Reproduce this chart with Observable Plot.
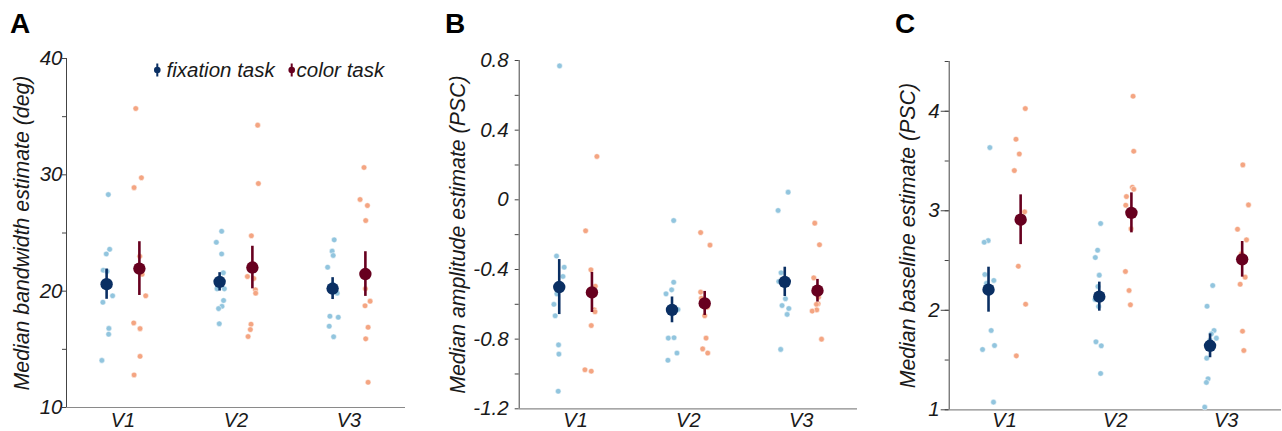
<!DOCTYPE html>
<html>
<head>
<meta charset="utf-8">
<script src="https://cdn.jsdelivr.net/npm/d3@7"></script>
<script src="https://cdn.jsdelivr.net/npm/@observablehq/plot@0.6"></script>
<style>
  body { margin: 0; background: white; }
  #wrap { position: relative; width: 1282px; height: 431px; overflow: hidden; font-family: "Liberation Sans", Arial, sans-serif; }
  .panel { position: absolute; top: 0; }
  #overlay { position: absolute; left: 0; top: 0; }
</style>
</head>
<body>
<div id="wrap">
  <div class="panel" id="pA" style="left:0px"></div>
  <div class="panel" id="pB" style="left:430px"></div>
  <div class="panel" id="pC" style="left:860px"></div>
  <svg id="overlay" width="1282" height="431"></svg>
</div>
<script>
// ---------- data ----------
const categories = ["V1", "V2", "V3"];
const tasks = ["fixation task", "color task"];
const panelLetters = ["A", "B", "C"];
const titles = ["Median bandwidth estimate (deg)", "Median amplitude estimate (PSC)", "Median baseline estimate (PSC)"];

// Panel A: bandwidth (deg)
const bwFix = [
  [28.3, 23.6, 23.2, 21.8, 21.7, 19.6, 19.05, 16.8, 16.3, 14.05],
  [25.15, 24.2, 23.2, 21.58, 20.2, 20.2, 19.2, 18.7, 18.5, 17.2],
  [24.41, 23.44, 23.07, 22.06, 20.6, 19.83, 17.85, 17.76, 16.99, 16.08]
];
const bwFixJit = [
  [0.015, 0.027, -0.003, -0.03, 0.004, 0.053, -0.033, 0.02, 0.018, -0.042],
  [0.018, -0.029, 0.018, 0.033, -0.023, 0.042, 0.035, 0.021, -0.009, -0.003],
  [0.014, -0.004, 0.005, -0.044, 0, 0.041, -0.024, 0.05, -0.03, 0.009]
];
const bwCol = [
  [35.7, 29.75, 28.9, 23.0, 21.45, 19.6, 17.27, 16.78, 14.4, 12.8],
  [34.27, 29.25, 24.76, 21.26, 21.09, 20.12, 19.83, 17.16, 16.7, 16.1],
  [30.63, 27.88, 27.36, 26.07, 20.2, 19.14, 18.74, 16.9, 15.9, 12.17]
];
const bwColJit = [
  [-0.032, 0.018, -0.047, 0.003, 0.024, 0.056, -0.05, 0.006, 0.006, -0.047],
  [0.047, 0.053, -0.009, -0.044, 0.012, 0.027, 0.029, -0.012, -0.018, -0.038],
  [-0.012, -0.047, 0.018, 0.003, 0, 0.042, -0.003, 0.024, 0.003, 0.024]
];
const bwFixMean = [20.6, 20.8, 20.22];
const bwFixSem = [1.3, 0.79, 0.94];
const bwColMean = [21.94, 22.03, 21.47];
const bwColSem = [2.31, 1.83, 1.92];

// Panel B: amplitude (PSC)
const ampFix = [
  [0.769, -0.323, -0.387, -0.44, -0.54, -0.60, -0.666, -0.833, -0.886, -1.099],
  [-0.119, -0.473, -0.517, -0.54, -0.63, -0.654, -0.794, -0.792, -0.88, -0.921],
  [0.044, -0.061, -0.419, -0.469, -0.489, -0.568, -0.607, -0.624, -0.658, -0.859]
];
const ampFixJit = [
  [0.003, -0.024, 0.044, 0.033, -0.021, -0.047, -0.036, -0.006, -0.003, -0.009],
  [0.015, 0.015, -0.003, -0.053, 0.053, 0, -0.033, 0.018, 0.044, -0.036],
  [0.03, -0.059, -0.033, -0.053, 0, 0.006, -0.024, 0.036, 0.021, -0.036]
];
const ampCol = [
  [0.249, -0.178, -0.402, -0.496, -0.55, -0.632, -0.643, -0.722, -0.976, -0.984],
  [-0.188, -0.26, -0.53, -0.565, -0.595, -0.616, -0.666, -0.794, -0.856, -0.88],
  [-0.134, -0.258, -0.448, -0.52, -0.56, -0.597, -0.6, -0.632, -0.639, -0.8]
];
const ampColJit = [
  [0.044, -0.056, -0.009, 0.03, 0, 0.021, 0.027, -0.006, -0.062, -0.006],
  [-0.036, 0.047, -0.036, -0.03, 0, 0.024, 0, 0.012, -0.018, 0.027],
  [-0.024, 0.018, -0.033, 0, 0.009, 0.006, -0.009, -0.006, -0.047, 0.036]
];
const ampFixMean = [-0.501, -0.632, -0.471];
const ampFixSem = [0.158, 0.074, 0.084];
const ampColMean = [-0.532, -0.595, -0.522];
const ampColSem = [0.115, 0.069, 0.065];

// Panel C: baseline (PSC)
const baseFix = [
  [3.635, 2.70, 2.684, 2.36, 2.30, 2.27, 1.797, 1.646, 1.606, 1.077],
  [2.872, 2.604, 2.53, 2.353, 2.239, 2.108, 2.038, 1.683, 1.643, 1.365],
  [2.249, 2.041, 1.797, 1.763, 1.72, 1.698, 1.519, 1.311, 1.275, 1.027]
];
const baseFixJit = [
  [0.012, -0.003, -0.039, -0.033, 0.048, -0.018, 0.024, 0.054, -0.054, 0.045],
  [0.012, -0.015, -0.036, 0, -0.012, -0.039, -0.006, -0.03, 0.018, 0.012],
  [0.024, -0.027, 0.036, 0.012, 0.057, 0, -0.03, -0.018, -0.033, -0.048]
];
const baseCol = [
  [4.027, 3.719, 3.571, 3.404, 2.989, 2.93, 2.88, 2.443, 2.061, 1.542],
  [4.151, 3.598, 3.237, 3.217, 3.143, 3.056, 2.818, 2.39, 2.199, 2.055],
  [3.461, 3.059, 2.815, 2.708, 2.567, 2.539, 2.333, 2.262, 1.79, 1.596]
];
const baseColJit = [
  [0.042, -0.042, -0.012, -0.057, 0.036, 0, 0.006, -0.021, 0.045, -0.039],
  [0.015, 0.021, 0.009, 0.021, -0.045, -0.051, -0.003, -0.054, -0.021, -0.009],
  [0.006, 0.057, -0.042, 0.039, -0.006, 0, 0.027, -0.018, 0.003, 0.015]
];
const baseFixMean = [2.207, 2.137, 1.643];
const baseFixSem = [0.226, 0.146, 0.12];
const baseColMean = [2.91, 2.979, 2.512];
const baseColSem = [0.25, 0.201, 0.179];

// axis ticks
const bwTicksMinor = [10, 15, 20, 25, 30, 35, 40];
const bwTicksMajor = [10, 20, 30, 40];
const ampTicksMinor = [-1.2, -1.0, -0.8, -0.6, -0.4, -0.2, 0, 0.2, 0.4, 0.6, 0.8];
const ampTicksMajor = [-1.2, -0.8, -0.4, 0, 0.4, 0.8];
const baseTicksMinor = [1, 1.5, 2, 2.5, 3, 3.5, 4, 4.5];
const baseTicksMajor = [1, 2, 3, 4];

// ---------- style ----------
const FONT = "'Liberation Sans', Arial, sans-serif";
const C_FIX_PT = "#92c5de", C_COL_PT = "#f4a582";
const C_FIX = "#0a2f63", C_COL = "#67001f";
const OFF = 0.145;

function panel(o) {
  const fixPts = [], colPts = [];
  categories.forEach((c, i) => {
    o.fix[i].forEach((v, j) => fixPts.push({x: i + 1 - OFF + o.fixJ[i][j], y: v}));
    o.col[i].forEach((v, j) => colPts.push({x: i + 1 + OFF + o.colJ[i][j], y: v}));
  });
  const fixM = categories.map((c, i) => ({x: i + 1 - OFF, y: o.fixM[i], s: o.fixS[i]}));
  const colM = categories.map((c, i) => ({x: i + 1 + OFF, y: o.colM[i], s: o.colS[i]}));
  return Plot.plot({
    width: o.width, height: 431,
    marginLeft: o.ml, marginRight: o.mr, marginTop: o.mt, marginBottom: o.mb,
    x: {domain: [0.5, 3.5], axis: null},
    y: {domain: o.domain, axis: null},
    style: {fontFamily: FONT, fontStyle: "italic", fontSize: "20px", color: "#1a1a1a", background: "white", overflow: "visible"},
    marks: [
      Plot.axisY(o.minor, {tickSize: 4, tickFormat: () => "", label: null, stroke: "#444"}),
      o.majorTick ? Plot.axisY(o.major, {tickSize: o.majorTick, tickFormat: () => "", label: null, stroke: "#444"}) : null,
      Plot.axisY(o.major, {tickSize: 0, tickPadding: o.pad, tickFormat: o.fmt, label: null, fontSize: 20.5, fill: "#1a1a1a"}),
      Plot.axisX([1, 2, 3], {tickSize: 0, tickPadding: o.xPad, tickFormat: d => categories[d - 1], label: null, fontSize: 20, fill: "#1a1a1a"}),
      Plot.ruleY([o.domain[0]], {stroke: "#8a8a8a", strokeWidth: 1.2}),
      Plot.ruleX([0.5], {stroke: "#444", strokeWidth: 1}),
      Plot.dot(fixPts, {x: "x", y: "y", r: 2.8, fill: C_FIX_PT, stroke: "white", strokeWidth: 0.5}),
      Plot.dot(colPts, {x: "x", y: "y", r: 2.8, fill: C_COL_PT, stroke: "white", strokeWidth: 0.5}),
      Plot.ruleX(fixM, {x: "x", y1: d => d.y - d.s, y2: d => d.y + d.s, stroke: C_FIX, strokeWidth: 2.6}),
      Plot.ruleX(colM, {x: "x", y1: d => d.y - d.s, y2: d => d.y + d.s, stroke: C_COL, strokeWidth: 2.6}),
      Plot.dot(fixM, {x: "x", y: "y", r: 6.2, fill: C_FIX}),
      Plot.dot(colM, {x: "x", y: "y", r: 6.2, fill: C_COL}),
      Plot.text([o.title], {text: d => d, frameAnchor: "left", textAnchor: "middle", lineAnchor: "middle", rotate: -90, dx: o.titleDx, fontSize: 21.3, fill: "#1a1a1a"})
    ]
  });
}

const fmtNum = d => (d === 0 ? "0" : String(d));

document.getElementById("pA").append(panel({
  fix: bwFix, col: bwCol, fixJ: bwFixJit, colJ: bwColJit,
  fixM: bwFixMean, fixS: bwFixSem, colM: bwColMean, colS: bwColSem,
  domain: [10, 40], minor: bwTicksMinor, major: bwTicksMajor, fmt: fmtNum,
  title: titles[0], width: 430, ml: 66, mr: 25, mt: 58, mb: 24, pad: 4, xPad: 5, titleDx: -44
}));
document.getElementById("pB").append(panel({
  fix: ampFix, col: ampCol, fixJ: ampFixJit, colJ: ampColJit,
  fixM: ampFixMean, fixS: ampFixSem, colM: ampColMean, colS: ampColSem,
  domain: [-1.2, 0.8], minor: ampTicksMinor, major: ampTicksMajor, fmt: fmtNum,
  title: titles[1], width: 430, ml: 88.7, mr: 3, mt: 60, mb: 22.7, pad: 10.5, xPad: 4.3, titleDx: -61
}));
document.getElementById("pC").append(panel({
  fix: baseFix, col: baseCol, fixJ: baseFixJit, colJ: baseColJit,
  fixM: baseFixMean, fixS: baseFixSem, colM: baseColMean, colS: baseColSem,
  domain: [1, 4.5], minor: baseTicksMinor, major: baseTicksMajor, fmt: fmtNum, majorTick: 8,
  title: titles[2], width: 422, ml: 88.7, mr: 1, mt: 61, mb: 21.7, pad: 9.5, xPad: 3.3, titleDx: -41
}));

// ---------- overlay: panel letters and legend ----------
const ov = d3.select("#overlay");
const letterX = [10, 445, 895];
panelLetters.forEach((L, i) => {
  ov.append("text").attr("x", letterX[i]).attr("y", 33)
    .attr("font-family", FONT).attr("font-weight", "bold").attr("font-size", 28)
    .attr("fill", "#000").text(L);
});
const legend = ov.append("g").attr("transform", "translate(140,55)");
const legendItems = [
  {label: tasks[0], color: C_FIX, mx: 17.3, tx: 26.5},
  {label: tasks[1], color: C_COL, mx: 151.7, tx: 156.5}
];
legendItems.forEach(it => {
  legend.append("line").attr("x1", it.mx).attr("x2", it.mx).attr("y1", 8.5).attr("y2", 21.5)
    .attr("stroke", it.color).attr("stroke-width", 2);
  legend.append("circle").attr("cx", it.mx).attr("cy", 15).attr("r", 3.3).attr("fill", it.color);
  legend.append("text").attr("x", it.tx).attr("y", 22)
    .attr("font-family", FONT).attr("font-style", "italic").attr("font-size", 20.5)
    .attr("fill", "#1a1a1a").text(it.label);
});
</script>
</body>
</html>
